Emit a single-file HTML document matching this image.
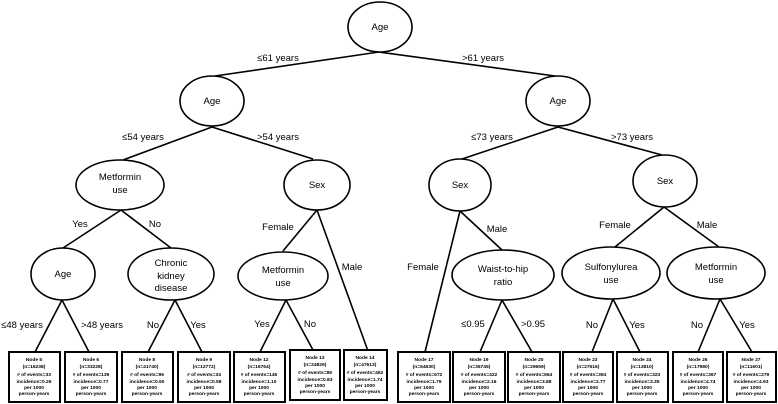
<!DOCTYPE html>
<html><head><meta charset="utf-8"><style>
html,body{margin:0;padding:0;background:#fff}
svg{display:block}
text{font-family:"Liberation Sans",sans-serif;fill:#000}
.n{font-size:9.5px;text-anchor:middle}
.l{font-size:9.5px;text-anchor:middle}
.b{font-size:4.9px;font-weight:bold;text-anchor:middle}
</style></head><body>
<svg width="778" height="404" viewBox="0 0 778 404" xmlns="http://www.w3.org/2000/svg">
<g stroke="#000" stroke-width="1.6" fill="none">
<line x1="379" y1="52" x2="215" y2="76"/><line x1="379" y1="52" x2="555" y2="76"/>
<line x1="212" y1="127" x2="123" y2="160"/><line x1="212" y1="127" x2="313" y2="159"/>
<line x1="558" y1="127" x2="462" y2="159"/><line x1="558" y1="127" x2="662" y2="155"/>
<line x1="121" y1="210" x2="63" y2="248"/><line x1="121" y1="210" x2="171" y2="248"/>
<line x1="317" y1="210" x2="283" y2="251"/><line x1="317" y1="210" x2="368" y2="351"/>
<line x1="460" y1="211" x2="425" y2="352"/><line x1="460" y1="211" x2="502" y2="250"/>
<line x1="664" y1="207" x2="615" y2="247"/><line x1="664" y1="207" x2="719" y2="247"/>
<line x1="62" y1="300" x2="35" y2="352"/><line x1="62" y1="300" x2="89" y2="352"/>
<line x1="175" y1="300" x2="148" y2="352"/><line x1="175" y1="300" x2="202" y2="352"/>
<line x1="286" y1="300" x2="260" y2="352"/><line x1="286" y1="300" x2="313" y2="350"/>
<line x1="502" y1="300" x2="480" y2="352"/><line x1="502" y1="300" x2="532" y2="352"/>
<line x1="613" y1="299" x2="592" y2="352"/><line x1="613" y1="299" x2="640" y2="352"/>
<line x1="720" y1="299" x2="698" y2="352"/><line x1="720" y1="299" x2="752" y2="352"/>
</g>
<g stroke="#000" stroke-width="1.6" fill="#fff">
<ellipse cx="380" cy="27" rx="32" ry="25"/>
<ellipse cx="212" cy="101" rx="32" ry="25"/>
<ellipse cx="558" cy="101" rx="32" ry="25"/>
<ellipse cx="120" cy="185" rx="44" ry="25"/>
<ellipse cx="317" cy="185" rx="33" ry="25"/>
<ellipse cx="460" cy="185" rx="31" ry="26"/>
<ellipse cx="665" cy="181" rx="32" ry="26"/>
<ellipse cx="63" cy="274" rx="32" ry="26"/>
<ellipse cx="171" cy="274" rx="43" ry="26"/>
<ellipse cx="283" cy="276" rx="45" ry="24"/>
<ellipse cx="503" cy="275" rx="51" ry="25"/>
<ellipse cx="611" cy="273" rx="49" ry="26"/>
<ellipse cx="716" cy="273" rx="49" ry="26"/>
</g>
<text class="n" x="380" y="30">Age</text>
<text class="n" x="212" y="104">Age</text>
<text class="n" x="558" y="104">Age</text>
<text class="n" x="120" y="180">Metformin</text><text class="n" x="120" y="193">use</text>
<text class="n" x="317" y="188">Sex</text>
<text class="n" x="460" y="188">Sex</text>
<text class="n" x="665" y="184">Sex</text>
<text class="n" x="63" y="277">Age</text>
<text class="n" x="171" y="266">Chronic</text><text class="n" x="171" y="279">kidney</text><text class="n" x="171" y="291">disease</text>
<text class="n" x="283" y="273">Metformin</text><text class="n" x="283" y="286">use</text>
<text class="n" x="503" y="272">Waist-to-hip</text><text class="n" x="503" y="285">ratio</text>
<text class="n" x="611" y="270">Sulfonylurea</text><text class="n" x="611" y="283">use</text>
<text class="n" x="716" y="270">Metformin</text><text class="n" x="716" y="283">use</text>
<text class="l" x="278" y="61">≤61 years</text><text class="l" x="483" y="61">&gt;61 years</text>
<text class="l" x="143" y="140">≤54 years</text><text class="l" x="278" y="140">&gt;54 years</text>
<text class="l" x="492" y="140">≤73 years</text><text class="l" x="632" y="140">&gt;73 years</text>
<text class="l" x="80" y="227">Yes</text><text class="l" x="155" y="227">No</text>
<text class="l" x="278" y="230">Female</text><text class="l" x="352" y="270">Male</text>
<text class="l" x="423" y="270">Female</text><text class="l" x="497" y="232">Male</text>
<text class="l" x="615" y="228">Female</text><text class="l" x="707" y="228">Male</text>
<text class="l" x="22" y="328">≤48 years</text><text class="l" x="102" y="328">&gt;48 years</text>
<text class="l" x="153" y="328">No</text><text class="l" x="198" y="328">Yes</text>
<text class="l" x="262" y="327">Yes</text><text class="l" x="310" y="327">No</text>
<text class="l" x="473" y="327">≤0.95</text><text class="l" x="533" y="327">&gt;0.95</text>
<text class="l" x="592" y="328">No</text><text class="l" x="637" y="328">Yes</text>
<text class="l" x="697" y="328">No</text><text class="l" x="747" y="328">Yes</text>
<g stroke="#000" stroke-width="2" fill="#fff">
<rect x="9" y="352" width="51" height="50"/>
<rect x="65" y="352" width="52" height="50"/>
<rect x="122" y="352" width="51" height="50"/>
<rect x="178" y="352" width="52" height="50"/>
<rect x="234" y="352" width="51" height="50"/>
<rect x="290" y="350" width="50" height="50"/>
<rect x="344" y="350" width="43" height="50"/>
<rect x="398" y="352" width="52" height="50"/>
<rect x="453" y="352" width="52" height="50"/>
<rect x="508" y="352" width="52" height="50"/>
<rect x="563" y="352" width="50" height="50"/>
<rect x="617" y="352" width="51" height="50"/>
<rect x="673" y="352" width="50" height="50"/>
<rect x="727" y="352" width="49" height="50"/>
</g>
<g>
<text class="b" x="34" y="361">Node 5</text><text class="b" x="34" y="368">(n=16238)</text><text class="b" x="34" y="376"># of events=33</text><text class="b" x="34" y="383">incidence=0.26</text><text class="b" x="34" y="389">per 1000</text><text class="b" x="34" y="395">person-years</text>
<text class="b" x="91" y="361">Node 6</text><text class="b" x="91" y="368">(n=33228)</text><text class="b" x="91" y="376"># of events=139</text><text class="b" x="91" y="383">incidence=0.77</text><text class="b" x="91" y="389">per 1000</text><text class="b" x="91" y="395">person-years</text>
<text class="b" x="147" y="361">Node 8</text><text class="b" x="147" y="368">(n=41740)</text><text class="b" x="147" y="376"># of events=96</text><text class="b" x="147" y="383">incidence=0.50</text><text class="b" x="147" y="389">per 1000</text><text class="b" x="147" y="395">person-years</text>
<text class="b" x="204" y="361">Node 9</text><text class="b" x="204" y="368">(n=12772)</text><text class="b" x="204" y="376"># of events=34</text><text class="b" x="204" y="383">incidence=0.58</text><text class="b" x="204" y="389">per 1000</text><text class="b" x="204" y="395">person-years</text>
<text class="b" x="259" y="361">Node 12</text><text class="b" x="259" y="368">(n=16764)</text><text class="b" x="259" y="376"># of events=145</text><text class="b" x="259" y="383">incidence=1.10</text><text class="b" x="259" y="389">per 1000</text><text class="b" x="259" y="395">person-years</text>
<text class="b" x="315" y="359">Node 13</text><text class="b" x="315" y="366">(n=24829)</text><text class="b" x="315" y="374"># of events=89</text><text class="b" x="315" y="381">incidence=0.83</text><text class="b" x="315" y="387">per 1000</text><text class="b" x="315" y="393">person-years</text>
<text class="b" x="365" y="359">Node 14</text><text class="b" x="365" y="366">(n=47613)</text><text class="b" x="365" y="374"># of events=462</text><text class="b" x="365" y="381">incidence=1.74</text><text class="b" x="365" y="387">per 1000</text><text class="b" x="365" y="393">person-years</text>
<text class="b" x="424" y="361">Node 17</text><text class="b" x="424" y="368">(n=64630)</text><text class="b" x="424" y="376"># of events=672</text><text class="b" x="424" y="383">incidence=1.79</text><text class="b" x="424" y="389">per 1000</text><text class="b" x="424" y="395">person-years</text>
<text class="b" x="479" y="361">Node 19</text><text class="b" x="479" y="368">(n=36745)</text><text class="b" x="479" y="376"># of events=422</text><text class="b" x="479" y="383">incidence=2.16</text><text class="b" x="479" y="389">per 1000</text><text class="b" x="479" y="395">person-years</text>
<text class="b" x="534" y="361">Node 20</text><text class="b" x="534" y="368">(n=29659)</text><text class="b" x="534" y="376"># of events=664</text><text class="b" x="534" y="383">incidence=3.88</text><text class="b" x="534" y="389">per 1000</text><text class="b" x="534" y="395">person-years</text>
<text class="b" x="588" y="361">Node 23</text><text class="b" x="588" y="368">(n=27516)</text><text class="b" x="588" y="376"># of events=394</text><text class="b" x="588" y="383">incidence=2.77</text><text class="b" x="588" y="389">per 1000</text><text class="b" x="588" y="395">person-years</text>
<text class="b" x="642" y="361">Node 24</text><text class="b" x="642" y="368">(n=13810)</text><text class="b" x="642" y="376"># of events=323</text><text class="b" x="642" y="383">incidence=3.35</text><text class="b" x="642" y="389">per 1000</text><text class="b" x="642" y="395">person-years</text>
<text class="b" x="698" y="361">Node 26</text><text class="b" x="698" y="368">(n=17980)</text><text class="b" x="698" y="376"># of events=367</text><text class="b" x="698" y="383">incidence=4.74</text><text class="b" x="698" y="389">per 1000</text><text class="b" x="698" y="395">person-years</text>
<text class="b" x="751" y="361">Node 27</text><text class="b" x="751" y="368">(n=11601)</text><text class="b" x="751" y="376"># of events=279</text><text class="b" x="751" y="383">incidence=4.93</text><text class="b" x="751" y="389">per 1000</text><text class="b" x="751" y="395">person-years</text>
</g>
</svg>
</body></html>
